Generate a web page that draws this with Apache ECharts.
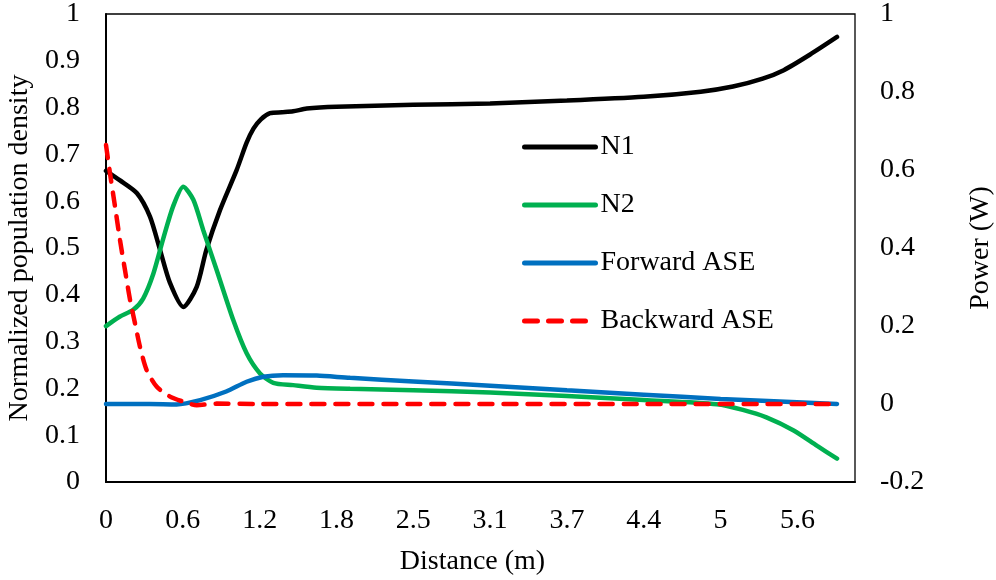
<!DOCTYPE html>
<html>
<head>
<meta charset="utf-8">
<script src="https://cdn.jsdelivr.net/npm/echarts@6/dist/echarts.min.js"></script>
<style>
  html, body { margin: 0; padding: 0; background: #fff; }
  #chart { width: 996px; height: 580px; }
</style>
</head>
<body>
<div id="chart"></div>
<script>
// tick labels shown under the x axis (one per 0.62 m step)
const xTickLabels = ['0', '0.6', '1.2', '1.8', '2.5', '3.1', '3.7', '4.4', '5', '5.6']
const xStep = 0.62

// [distance (m), normalized density]
const n1 = [
  [0, 0.665], [0.11, 0.645], [0.25, 0.617], [0.355, 0.567], [0.436, 0.496],
  [0.517, 0.425], [0.624, 0.374], [0.732, 0.417], [0.81, 0.496], [0.92, 0.581],
  [1.055, 0.667], [1.135, 0.725], [1.19, 0.755], [1.25, 0.775], [1.324, 0.788],
  [1.42, 0.79], [1.51, 0.792], [1.62, 0.798], [1.86, 0.802], [2.48, 0.806],
  [3.1, 0.809], [3.72, 0.815], [4.34, 0.823], [4.8, 0.834], [5.06, 0.845],
  [5.3, 0.862], [5.47, 0.88], [5.68, 0.913], [5.9, 0.951],
]
const n2 = [
  [0, 0.333], [0.11, 0.353], [0.22, 0.368], [0.3, 0.392], [0.382, 0.445],
  [0.462, 0.52], [0.543, 0.59], [0.624, 0.631], [0.705, 0.603], [0.785, 0.538],
  [0.893, 0.453], [1.027, 0.346], [1.135, 0.275], [1.243, 0.232], [1.35, 0.212],
  [1.51, 0.207], [1.7, 0.2015], [1.97, 0.199], [2.48, 0.196], [3.1, 0.191],
  [3.72, 0.184], [4.34, 0.175], [4.93, 0.166], [5.14, 0.154], [5.33, 0.138],
  [5.55, 0.11], [5.74, 0.077], [5.9, 0.05],
]
// [distance (m), power (W)]
const fwdAse = [
  [0, 0], [0.35, 0], [0.57, -0.001], [0.76, 0.01], [0.97, 0.032], [1.135, 0.057],
  [1.27, 0.07], [1.43, 0.074], [1.7, 0.073], [1.97, 0.067], [2.48, 0.058],
  [3.1, 0.047], [3.72, 0.035], [4.34, 0.024], [4.96, 0.013], [5.9, 0],
]
const bwdAse = [
  [0, 0.664], [0.032, 0.592], [0.073, 0.506], [0.113, 0.42], [0.153, 0.344],
  [0.194, 0.267], [0.234, 0.207], [0.274, 0.147], [0.328, 0.087], [0.41, 0.044],
  [0.517, 0.019], [0.624, 0.006], [0.732, -0.003], [0.893, 0.001], [1.2, 0], [5.9, 0],
]

const font = 'Liberation Serif'
const chart = echarts.init(document.getElementById('chart'))

const line = (name, data, color, yAxisIndex, dashed) => ({
  name,
  type: 'line',
  data,
  yAxisIndex,
  symbol: 'none',
  smooth: 0.25,
  lineStyle: dashed
    ? { color, width: 4.5, type: [13, 11], cap: 'round' }
    : { color, width: 4.5, cap: 'round' },
  itemStyle: { color },
})

chart.setOption({
  animation: false,
  textStyle: { fontFamily: font },
  grid: {
    left: 106, right: 141, top: 14, bottom: 98,
    outerBoundsMode: 'none',
    show: true, borderColor: '#000', borderWidth: 1.3,
  },
  legend: {
    orient: 'vertical',
    left: 517,
    top: 128,
    itemWidth: 71,
    itemHeight: 14,
    itemGap: 30,
    itemStyle: { opacity: 0 },
    lineStyle: { width: 5, cap: 'round' },
    textStyle: { fontFamily: font, fontSize: 28, color: '#000' },
    data: ['N1', 'N2', 'Forward ASE', 'Backward ASE'],
  },
  xAxis: {
    type: 'value',
    min: 0,
    max: 6.045,
    interval: xStep,
    name: 'Distance (m)',
    nameLocation: 'middle',
    nameGap: 66,
    nameTextStyle: { fontFamily: font, fontSize: 28, color: '#000', padding: [0, 16, 0, 0] },
    axisLine: { onZero: false, lineStyle: { color: '#000', width: 2 } },
    axisTick: { show: false },
    splitLine: { show: false },
    axisLabel: {
      fontFamily: font, fontSize: 28, color: '#000', margin: 25,
      formatter: v => xTickLabels[Math.round(v / xStep)] ?? '',
    },
  },
  yAxis: [
    {
      type: 'value',
      min: 0,
      max: 1,
      interval: 0.1,
      name: 'Normalized population density',
      nameLocation: 'middle',
      nameGap: 66,
      nameTextStyle: { fontFamily: font, fontSize: 28, color: '#000' },
      axisLine: { show: true, lineStyle: { color: '#000', width: 2 } },
      axisTick: { show: false },
      splitLine: { show: false },
      axisLabel: { fontFamily: font, fontSize: 28, color: '#000', margin: 26 },
    },
    {
      type: 'value',
      min: -0.2,
      max: 1,
      interval: 0.2,
      position: 'right',
      name: 'Power (W)',
      nameLocation: 'middle',
      nameRotate: 90,
      nameGap: 112,
      nameTextStyle: { fontFamily: font, fontSize: 28, color: '#000' },
      axisLine: { show: false },
      axisTick: { show: false },
      splitLine: { show: false },
      axisLabel: { fontFamily: font, fontSize: 28, color: '#000', margin: 25 },
    },
  ],
  series: [
    line('N1', n1, '#000000', 0, false),
    line('N2', n2, '#00b050', 0, false),
    line('Forward ASE', fwdAse, '#0070c0', 1, false),
    line('Backward ASE', bwdAse, '#ff0000', 1, true),
  ],
})
</script>
</body>
</html>
